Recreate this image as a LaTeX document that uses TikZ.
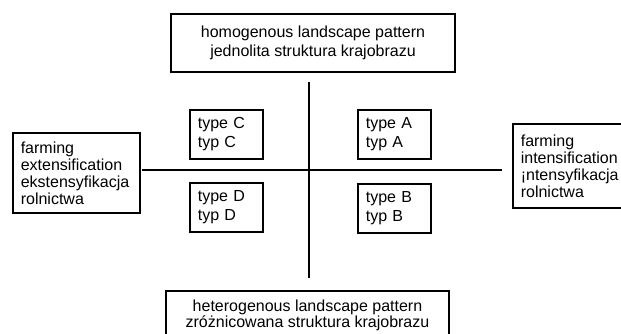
\documentclass[tikz,border=0pt]{standalone}
\usepackage{fontspec}
\setmainfont{Liberation Sans}

\begin{document}
\begin{tikzpicture}[x=1pt,y=-1pt,box/.style={draw,rectangle,line width=1.6pt},typebox/.style={box,anchor=north west,minimum width=73pt,minimum height=49pt,text width=57pt,inner xsep=8pt,align=left,font=\fontsize{16}{18.5}\selectfont},sidebox/.style={box,anchor=north west,inner xsep=8pt,align=left,font=\fontsize{16}{17}\selectfont},axis/.style={line width=1.4pt}]
	\useasboundingbox (0,0) rectangle (621,334);
	\node[box,anchor=north,minimum width=284pt,minimum height=58pt,align=center,font=\fontsize{16}{19}\selectfont] (homo) at (313,13) {homogenous landscape pattern\\jednolita struktura krajobrazu};
	\node[box,anchor=north,minimum width=283pt,inner ysep=9pt,align=center,font=\fontsize{16}{15}\selectfont] (hetero) at (307.5,290) {heterogenous landscape pattern\\zróżnicowana struktura krajobrazu};
	\node[sidebox,text width=111pt,minimum height=80pt] (ext) at (12,132) {farming\\extensification\\ekstensyfikacja\\rolnictwa};
	\node[sidebox,text width=110pt,minimum height=84pt] (int) at (512,123) {farming\\intensification\\¡ntensyfikacja\\rolnictwa};
	\node[typebox] (typeC) at (189,109) {type C\\typ C};
	\node[typebox] (typeA) at (357,109) {type A\\typ A};
	\node[typebox] (typeD) at (189,182) {type D\\typ D};
	\node[typebox] (typeB) at (357,183) {type B\\typ B};
	\coordinate (vtop) at (309,82);
	\coordinate (vbot) at (309,278);
	\coordinate (hleft) at (142,170);
	\coordinate (hright) at (502,170);
	\draw[axis] (vtop) -- (vbot);
	\draw[axis] (hleft) -- (hright);
\end{tikzpicture}
\end{document}
